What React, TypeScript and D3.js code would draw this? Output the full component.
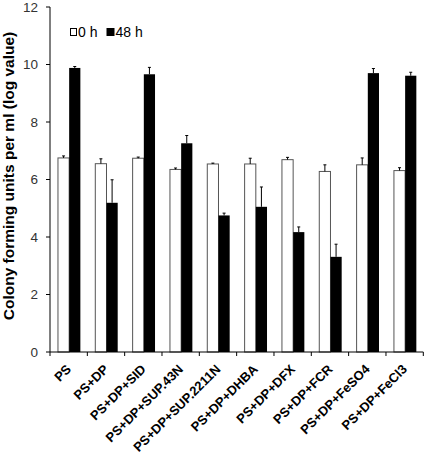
import React from "react";
import * as d3 from "d3";

const categories = ["PS", "PS+DP", "PS+DP+SID", "PS+DP+SUP.43N", "PS+DP+SUP.2211N", "PS+DP+DHBA", "PS+DP+DFX", "PS+DP+FCR", "PS+DP+FeSO4", "PS+DP+FeCl3"];
const h0 = [6.75, 6.55, 6.74, 6.35, 6.54, 6.54, 6.69, 6.28, 6.51, 6.31];
const h0Err = [0.07, 0.17, 0.04, 0.05, 0.03, 0.2, 0.08, 0.23, 0.24, 0.1];
const h48 = [9.88, 5.19, 9.66, 7.26, 4.75, 5.05, 4.17, 3.31, 9.7, 9.61];
const h48Err = [0.05, 0.8, 0.24, 0.27, 0.08, 0.69, 0.18, 0.44, 0.16, 0.12];
const yTicks = [0, 2, 4, 6, 8, 10, 12];
const seriesNames = ["0 h", "48 h"];

export default function App() {
  const W = 425, H = 457;
  const left = 50, right = 423.3, top = 7, bottom = 352;
  const x = d3.scaleBand().domain(categories).range([left, right]).paddingInner(0).paddingOuter(0);
  const y = d3.scaleLinear().domain([0, 12]).range([bottom, top]);
  const bw = 11.2;
  const font = "'Liberation Sans', Arial, sans-serif";
  return (
    <svg width={W} height={H} style={{ position: "absolute", left: 0, top: 0, background: "#fff" }}>
      {categories.map((c, i) => {
        const cx = (x(c) as number) + x.bandwidth() / 2 + 0.5;
        const xw = cx - bw;
        const xb = cx;
        return (
          <g key={c}>
            <rect x={xw} y={y(h0[i])} width={bw} height={bottom - y(h0[i])} fill="#fff" stroke="#555" strokeWidth={1} />
            <line x1={xw + bw / 2} x2={xw + bw / 2} y1={y(h0[i])} y2={y(h0[i] + h0Err[i])} stroke="#000" strokeWidth={1} />
            <line x1={xw + bw / 2 - 1.5} x2={xw + bw / 2 + 1.5} y1={y(h0[i] + h0Err[i])} y2={y(h0[i] + h0Err[i])} stroke="#000" strokeWidth={1} />
            <rect x={xb} y={y(h48[i])} width={bw} height={bottom - y(h48[i])} fill="#000" />
            <line x1={xb + bw / 2} x2={xb + bw / 2} y1={y(h48[i])} y2={y(h48[i] + h48Err[i])} stroke="#000" strokeWidth={1} />
            <line x1={xb + bw / 2 - 1.5} x2={xb + bw / 2 + 1.5} y1={y(h48[i] + h48Err[i])} y2={y(h48[i] + h48Err[i])} stroke="#000" strokeWidth={1} />
          </g>
        );
      })}
      {/* y axis */}
      <line x1={left} x2={left} y1={top} y2={bottom} stroke="#000" strokeWidth={1} />
      {yTicks.map((t) => (
        <g key={t}>
          <line x1={left - 4} x2={left} y1={y(t)} y2={y(t)} stroke="#000" />
          <text x={38} y={y(t)} dy="0.36em" textAnchor="end" fontFamily={font} fontSize={13.5} fill="#333">{t}</text>
        </g>
      ))}
      {/* x axis */}
      <line x1={left} x2={right} y1={bottom} y2={bottom} stroke="#000" strokeWidth={1} />
      {categories.map((c) => (
        <line key={"t" + c} x1={(x(c) as number) + x.bandwidth()} x2={(x(c) as number) + x.bandwidth()} y1={bottom} y2={bottom + 4} stroke="#000" />
      ))}
      <line x1={left} x2={left} y1={bottom} y2={bottom + 4} stroke="#000" />
      {categories.map((c) => {
        const cx = (x(c) as number) + x.bandwidth() / 2 + 3.3;
        return (
          <text key={"l" + c} transform={`translate(${cx},${bottom + 18}) rotate(-45)`} textAnchor="end" fontFamily={font} fontSize={13} fontWeight="bold" fill="#000">{c}</text>
        );
      })}
      {/* y title */}
      <text transform={`translate(14,176) rotate(-90)`} textAnchor="middle" fontFamily={font} fontSize={15.5} fontWeight="bold" fill="#000">Colony forming units per ml (log value)</text>
      {/* legend */}
      <rect x={70.5} y={28.5} width={6} height={7} fill="#fff" stroke="#000" />
      <text x={78} y={32} dy="0.36em" fontFamily={font} fontSize={14} fill="#000">{seriesNames[0]}</text>
      <rect x={106.5} y={28} width={8} height={8} fill="#000" />
      <text x={115.5} y={32} dy="0.36em" fontFamily={font} fontSize={14} fill="#000">{seriesNames[1]}</text>
    </svg>
  );
}
